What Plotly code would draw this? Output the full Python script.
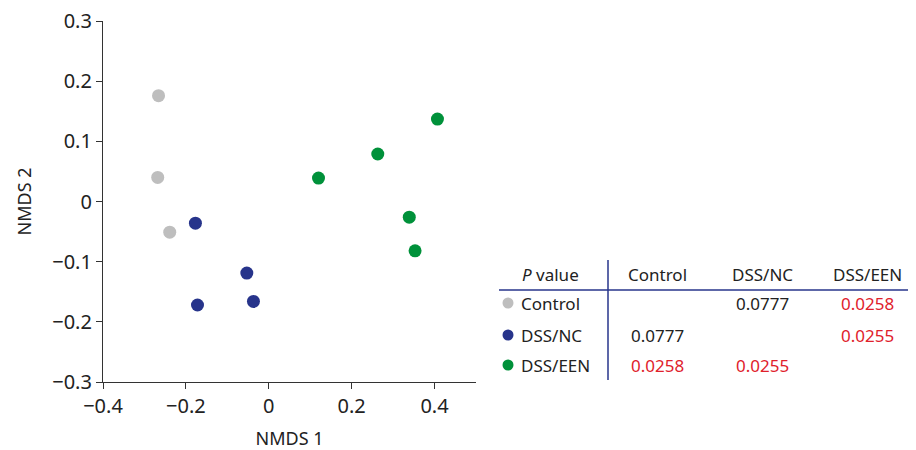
import plotly.graph_objects as go

# ---- data ----
groups = ["Control", "DSS/NC", "DSS/EEN"]
colors = ["#BEBEBE", "#27348B", "#00913A"]
control_x = [-0.266, -0.268, -0.239]
control_y = [0.176, 0.040, -0.051]
dssnc_x = [-0.177, -0.053, -0.172, -0.037]
dssnc_y = [-0.036, -0.119, -0.172, -0.166]
dsseen_x = [0.120, 0.263, 0.407, 0.339, 0.353]
dsseen_y = [0.039, 0.079, 0.137, -0.026, -0.082]
xticks = [-0.4, -0.2, 0, 0.2, 0.4]
xticklabels = ["\u22120.4", "\u22120.2", "0", "0.2", "0.4"]
yticks = [-0.3, -0.2, -0.1, 0, 0.1, 0.2, 0.3]
yticklabels = ["\u22120.3", "\u22120.2", "\u22120.1", "0", "0.1", "0.2", "0.3"]
# p-value table (row group vs column group)
pvalues = [
    ["", "0.0777", "0.0258"],
    ["0.0777", "", "0.0255"],
    ["0.0258", "0.0255", ""],
]
sig_threshold = 0.05

xs = [control_x, dssnc_x, dsseen_x]
ys = [control_y, dssnc_y, dsseen_y]

OFF = 8  # page body margin
W, H = 916 - OFF, 450 - OFF
L, T = 103 - OFF, 21 - OFF
PR, PB = 476 - OFF, 382 - OFF  # plot right / bottom in figure px
R, B = W - PR, H - PB
pw, ph = PR - L, PB - T
FONT = "Noto Sans"
TXT = "#222222"
NAVY = "#27348B"

def px(xp):  # reference px -> paper
    return (xp - OFF - L) / pw

def py(yp):
    return (PB - (yp - OFF)) / ph

fig = go.Figure()
for g, c, x, y in zip(groups, colors, xs, ys):
    fig.add_trace(go.Scatter(x=x, y=y, mode="markers", name=g,
                             marker=dict(color=c, size=13, line=dict(width=0)),
                             showlegend=False, cliponaxis=False))

annotations = []
shapes = []
col_x = [657, 762, 868]
row_y = [303, 335, 365]
header_y = 274
TS = 17

def ann(x, y, text, color=TXT, xanchor="center"):
    annotations.append(dict(x=px(x), y=py(y), xref="paper", yref="paper",
                            text=text, showarrow=False, xanchor=xanchor,
                            yanchor="middle",
                            font=dict(family=FONT, size=TS, color=color)))

ann(550, header_y, "<i>P</i> value")
for g, cx in zip(groups, col_x):
    ann(cx, header_y, g)
for i, (g, c, ry) in enumerate(zip(groups, colors, row_y)):
    r = 5.5
    shapes.append(dict(type="circle", xref="paper", yref="paper",
                       x0=px(508 - r), x1=px(508 + r), y0=py(ry + r), y1=py(ry - r),
                       fillcolor=c, line=dict(width=0)))
    ann(519, ry, g, xanchor="left")
    for j, cx in enumerate(col_x):
        v = pvalues[i][j]
        if v == "":
            continue
        col = "#E0212B" if float(v) < sig_threshold else TXT
        ann(cx, ry, v, color=col)
# table lines
shapes.append(dict(type="line", xref="paper", yref="paper",
                   x0=px(499), x1=px(916), y0=py(290), y1=py(290),
                   line=dict(color=NAVY, width=1.5)))
shapes.append(dict(type="line", xref="paper", yref="paper",
                   x0=px(608), x1=px(608), y0=py(260), y1=py(380),
                   line=dict(color=NAVY, width=1.5)))

fig.update_layout(
    width=W, height=H,
    margin=dict(l=L, r=R, t=T, b=B, autoexpand=False),
    paper_bgcolor="white", plot_bgcolor="white",
    font=dict(family=FONT, size=18, color=TXT),
    xaxis=dict(range=[-0.4, 0.5], tickvals=xticks, ticktext=xticklabels,
               automargin=False, ticklabeloverflow="allow",
               showgrid=False, zeroline=False, showline=True, linecolor="#333",
               linewidth=1.2, ticks="outside", ticklen=6, tickcolor="#333",
               tickfont=dict(size=20),
               title=dict(text="NMDS 1", font=dict(size=18), standoff=14)),
    yaxis=dict(range=[-0.3, 0.3001], tickvals=yticks, ticktext=yticklabels,
               automargin=False, ticklabeloverflow="allow",
               showgrid=False, zeroline=False, showline=True, linecolor="#333",
               linewidth=1.2, ticks="outside", ticklen=6, tickcolor="#333",
               tickfont=dict(size=20),
               title=dict(text="NMDS 2", font=dict(size=18), standoff=15)),
    annotations=annotations, shapes=shapes,
)
fig.write_html("out.html")
